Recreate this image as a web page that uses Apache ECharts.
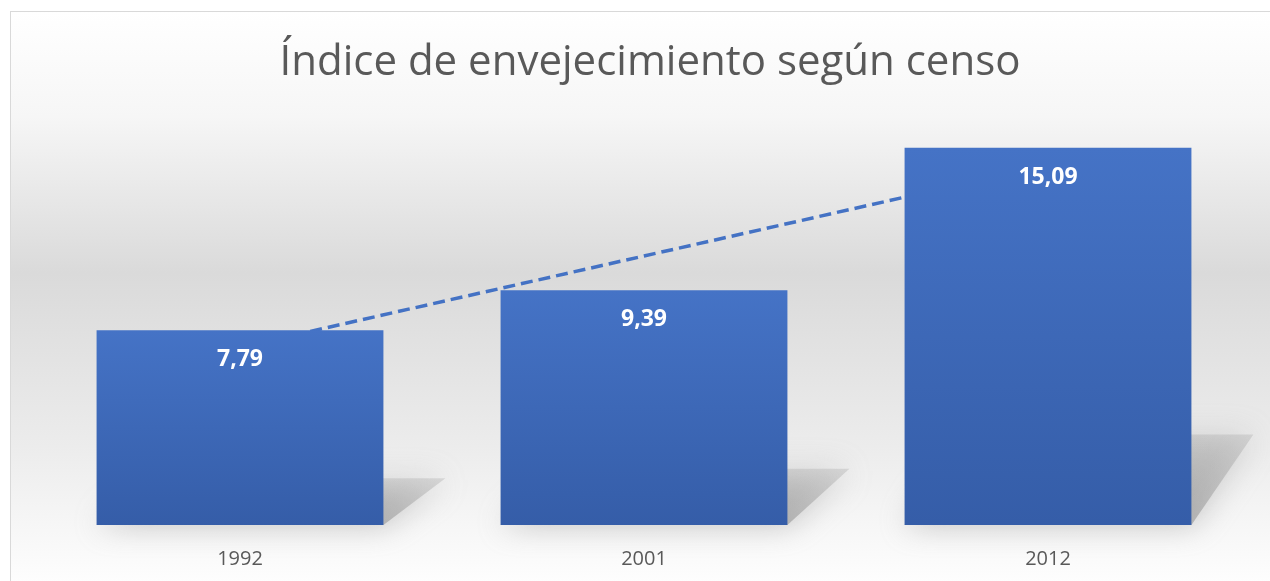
<!DOCTYPE html>
<html>
<head>
<meta charset="utf-8">
<script src="https://cdn.jsdelivr.net/npm/echarts@6/dist/echarts.min.js"></script>
<style>
  html, body { margin: 0; padding: 0; background: #fff; }
  .frame {
    position: absolute; left: 10px; top: 11px; width: 1270px; height: 580px;
    border: 1px solid #d9d9d9;
    background: linear-gradient(to bottom, #ffffff 0%, #f6f6f6 18%, #dadada 45%, #ececec 75%, #ffffff 100%);
  }
  #chart { position: absolute; left: 0; top: 0; width: 1270px; height: 581px; }
</style>
</head>
<body>
<div class="frame"></div>
<div id="chart"></div>
<script>
// datos del censo
const years = ["1992", "2001", "2012"];
const indice = [7.79, 9.39, 15.09];
// linea de tendencia
const tendencia = [7.11, 10.76, 14.41];

const chart = echarts.init(document.getElementById("chart"));

// sombra en perspectiva detras de cada barra
const renderShadow = (params, api) => {
  const idx = api.value(0);
  const top = api.coord([idx, api.value(1)]);
  const base = api.coord([idx, 0]);
  const w = api.size([1, 0])[0] * 0.71;
  const h = base[1] - top[1];
  const xl = base[0] - w / 2;
  const xr = base[0] + w / 2;
  const sh = h * 0.24;
  const skew = 62;
  return {
    type: "polygon",
    shape: {
      points: [
        [xl, base[1]],
        [xr, base[1]],
        [xr + skew, base[1] - sh],
        [xl + skew, base[1] - sh],
      ],
    },
    style: {
      fill: new echarts.graphic.LinearGradient(0, 0, 0, 1, [
        { offset: 0, color: "rgba(160,160,160,0.3)" },
        { offset: 1, color: "rgba(140,140,140,0.55)" },
      ]),
      shadowBlur: 30,
      shadowColor: "rgba(130,130,130,0.8)",
    },
  };
};

chart.setOption({
  backgroundColor: "transparent",
  title: {
    text: "Índice de envejecimiento según censo",
    left: 645,
    top: 37,
    textAlign: "center",
    textStyle: {
      fontFamily: "Open Sans",
      fontWeight: 400,
      fontSize: 42,
      color: "#595959",
    },
  },
  grid: { left: 38, right: 20, top: 125, bottom: 56 },
  xAxis: {
    type: "category",
    data: years,
    axisLine: { show: false },
    axisTick: { show: false },
    axisLabel: {
      color: "#595959",
      fontSize: 20,
      fontFamily: "Open Sans",
      margin: 24,
    },
  },
  yAxis: {
    type: "value",
    min: 0,
    max: 16,
    show: false,
    splitLine: { show: false },
  },
  series: [
    {
      type: "custom",
      renderItem: renderShadow,
      data: indice.map((v, i) => [i, v]),
      z: 1,
      silent: true,
    },
    {
      type: "line",
      data: tendencia,
      symbol: "none",
      z: 2,
      lineStyle: { color: "#4472C4", width: 3.5, type: [12, 6] },
    },
    {
      type: "bar",
      data: indice,
      barWidth: "71%",
      z: 3,
      itemStyle: {
        color: new echarts.graphic.LinearGradient(0, 0, 0, 1, [
          { offset: 0, color: "#4573C6" },
          { offset: 1, color: "#355DA8" },
        ]),
      },
      label: {
        show: true,
        position: "insideTop",
        distance: 18,
        color: "#ffffff",
        fontFamily: "Open Sans",
        fontWeight: "bold",
        fontSize: 23,
        formatter: (p) => String(p.value).replace(".", ","),
      },
    },
  ],
});
</script>
</body>
</html>
